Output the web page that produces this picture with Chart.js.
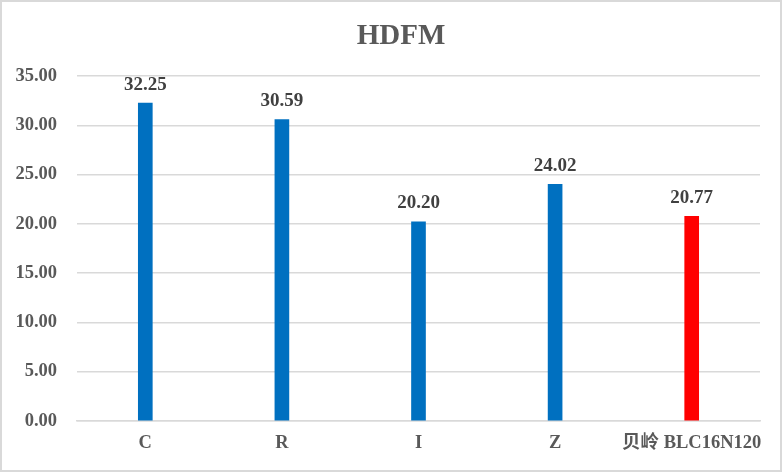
<!DOCTYPE html>
<html>
<head>
<meta charset="utf-8">
<script src="https://cdn.jsdelivr.net/npm/chart.js@4/dist/chart.umd.min.js"></script>
<style>
  html, body { margin: 0; padding: 0; background: #fff; }
  #wrap { position: relative; width: 783px; height: 473px; }
</style>
</head>
<body>
<div id="wrap"><canvas id="hdfm"></canvas></div>
<script>
/* ═══ HDFM bar chart ═══ */
var chartTitle = 'HDFM';
var categories = ['C', 'R', 'I', 'Z', '贝岭 BLC16N120'];
var values     = [32.25, 30.59, 20.20, 24.02, 20.77];
var barColors  = ['#0070C0', '#0070C0', '#0070C0', '#0070C0', '#FF0000'];
var yTicks     = [0, 5, 10, 15, 20, 25, 30, 35];

var FONT = '"Liberation Serif", "Times New Roman", "Noto Sans CJK SC", serif';

// frame around the whole picture + the title (centred on the picture, not the plot)
var frame = {
  id: 'frame',
  beforeDraw: function(c) {
    var ctx = c.ctx;
    ctx.save();
    ctx.fillStyle = '#fff';
    ctx.fillRect(0, 0, c.width, c.height);
    ctx.lineWidth = 2;
    ctx.strokeStyle = '#d9d9d9';
    ctx.strokeRect(1, 1, c.width - 3, c.height - 3);
    ctx.font = 'bold 29px ' + FONT;
    ctx.fillStyle = '#595959';
    ctx.textAlign = 'center';
    ctx.textBaseline = 'middle';
    ctx.fillText(chartTitle, 401, 37);
    ctx.restore();
  }
};

// value labels above the bars
var valueLabels = {
  id: 'valueLabels',
  afterDatasetsDraw: function(c) {
    var ctx = c.ctx;
    var meta = c.getDatasetMeta(0);
    ctx.save();
    ctx.font = 'bold 19px ' + FONT;
    ctx.fillStyle = '#404040';
    ctx.textAlign = 'center';
    ctx.textBaseline = 'middle';
    meta.data.forEach(function(bar, i) {
      ctx.fillText(values[i].toFixed(2), bar.x, bar.y - 18.5);
    });
    ctx.restore();
  }
};

new Chart(document.getElementById('hdfm'), {
  type: 'bar',
  data: {
    labels: categories,
    datasets: [{
      data: values,
      backgroundColor: barColors,
      borderWidth: 0,
      barThickness: 14
    }]
  },
  plugins: [frame, valueLabels],
  options: {
    responsive: true,
    maintainAspectRatio: false,
    animation: false,
    layout: { padding: { left: 0, right: 23, top: 76, bottom: 0 } },
    plugins: {
      legend: { display: false },
      tooltip: { enabled: false },
      title: { display: false }
    },
    scales: {
      x: {
        grid: { display: false, drawTicks: false },
        border: { display: true, color: '#d9d9d9', width: 1.5 },
        ticks: {
          color: '#595959',
          font: { family: FONT, size: 18.5, weight: 'bold' },
          padding: 11,
          maxRotation: 0,
          autoSkip: false
        },
        afterFit: function(s) { s.height = 52; }
      },
      y: {
        min: 0,
        max: 35,
        afterBuildTicks: function(s) {
          s.ticks = yTicks.map(function(v) { return { value: v }; });
        },
        grid: { color: '#d9d9d9', lineWidth: 1.5, drawTicks: false },
        border: { display: false },
        ticks: {
          color: '#595959',
          font: { family: FONT, size: 18.5, weight: 'bold' },
          padding: 20,
          callback: function(v) { return Number(v).toFixed(2); }
        },
        afterFit: function(s) { s.width = 77; }
      }
    }
  }
});
</script>
</body>
</html>
